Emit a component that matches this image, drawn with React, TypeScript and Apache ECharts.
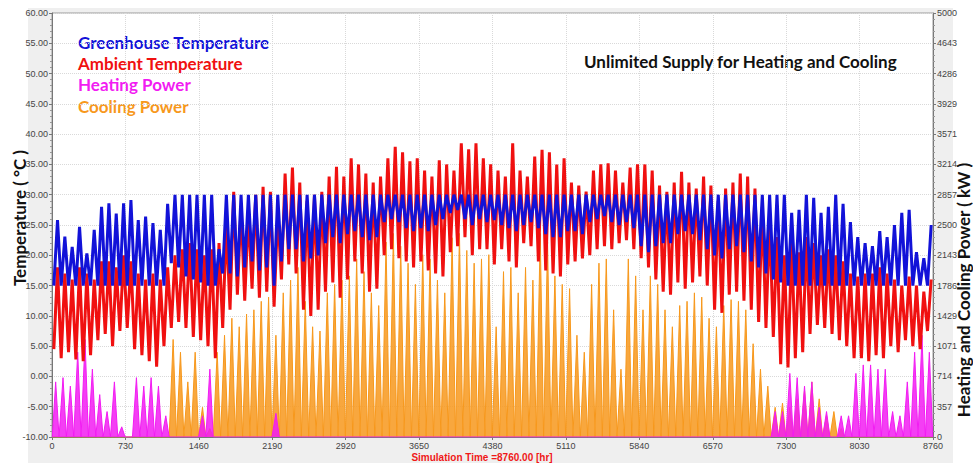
import React, { useEffect, useRef } from "react";
import * as echarts from "echarts";

// Each sample covers a 73-hour window of the 8760-hour simulation (120 windows).
const SAMPLE_HOURS = 73;
const X_TICKS = [0, 730, 1460, 2190, 2920, 3650, 4380, 5110, 5840, 6570, 7300, 8030, 8760];

// Greenhouse temperature (°C): window maximum / minimum
const ghHi = [
  25.8, 23.1, 21.4, 24.7, 20.3, 24.2, 28.0, 28.6, 26.9, 28.6,
  29.1, 25.8, 26.4, 25.3, 24.2, 28.5, 30, 30, 30, 30,
  30, 30, 21, 30, 30, 30, 30, 30, 30, 30,
  30, 30, 30, 30, 30, 30, 30, 30, 30, 30,
  30, 30, 30, 30, 30, 30, 30, 30, 30, 30,
  30, 30, 30, 30, 30, 30, 30, 30, 30, 30,
  30, 30, 30, 30, 30, 30, 30, 30, 30, 30,
  30, 30, 30, 30, 30, 30, 30, 30, 30, 30,
  30, 30, 30, 30, 30, 30, 30, 30, 30, 30,
  30, 30, 30, 30, 30, 30, 30, 30, 30, 30,
  27, 27.5, 30, 29.5, 27, 28, 30, 28.5, 25.5, 23,
  22, 21.5, 24, 23, 25, 27, 27.5, 20.5, 19.5, 25,
];
const ghLo = [
  15, 15, 15, 15, 15, 15, 15, 15, 15, 15,
  15, 15, 15, 15, 15, 15, 18.7, 18, 16.5, 16,
  15.5, 15, 15, 17, 17, 16.5, 18, 19, 17.5, 18,
  15, 19, 21, 21, 19, 19.5, 20, 22, 23, 22,
  23.5, 24, 23, 22.5, 23, 25.5, 26, 25.5, 24.5, 24,
  24.5, 24, 25, 26, 27, 27.5, 26, 25, 26, 25.5,
  25.8, 25, 24.5, 24, 25, 25.5, 24.5, 23.5, 23, 23,
  24, 24, 23.5, 25.5, 26, 26.5, 25.5, 25, 25.5, 24.5,
  21.5, 20.5, 21.5, 22, 22, 23.5, 24, 23.5, 22.5, 21,
  20, 19.5, 21, 21.5, 20.5, 19, 18, 17, 16, 15.5,
  15, 15, 15, 15, 15, 15, 15, 15, 15, 15,
  15, 15, 15, 15, 15, 15, 15, 15, 15, 15,
];

// Ambient temperature (°C): window maximum / minimum
const ambHi = [
  18, 17, 16, 18, 17, 16, 19, 19, 18, 20,
  19, 17, 16, 17, 16, 18, 20, 21, 22, 21,
  20, 21, 22, 25, 30.5, 28, 27, 30, 31.3, 30.5,
  27, 33.5, 34.5, 32, 29, 30, 30.5, 33, 34.6, 33,
  36, 35, 33.5, 32, 33, 36, 37.9, 37, 35.5, 36,
  34, 33, 35.7, 35, 34, 38.5, 37.5, 38.5, 36, 35,
  34, 33, 38.5, 34, 33, 36.3, 37.4, 37, 35, 36,
  32, 31.5, 30.5, 34, 35, 35.2, 34, 32, 34.5, 35,
  35, 34, 31.5, 30.5, 32, 33.8, 32, 31, 33, 31.5,
  29, 31, 32, 33.5, 33, 31, 28, 26, 23, 20,
  22, 20.5, 23, 22, 20, 21, 20, 19, 17, 16.5,
  17, 17, 18, 17, 16, 15, 16.5, 15, 14, 16,
];
const ambLo = [
  4.5, 3, 4, 2.8, 2.5, 3.5, 6, 7, 5, 7.5,
  8, 4.5, 3.5, 2.5, 1.6, 5, 8, 9, 8, 6.5,
  6, 5, 3, 8, 11, 13.5, 12.5, 14.5, 13, 14,
  11.5, 16, 18.5, 17, 11, 10, 11, 14, 15.5, 13,
  16, 19, 17, 14, 14.5, 20, 21, 19.5, 19, 18,
  19, 17.5, 17, 16.5, 20.5, 21.5, 23, 20, 21, 21,
  18.5, 21, 19, 18, 22, 21.5, 19, 17.5, 17, 16.5,
  18.5, 19, 19.5, 20, 21, 21.5, 21, 22, 22.5, 21,
  19.5, 18, 16, 14, 13.5, 15.5, 14.5, 15.5, 16.5, 15,
  11, 10.5, 13.5, 14, 12.5, 11, 9, 8, 6.5, 2,
  1.5, 3, 4, 7, 8.5, 8, 7, 6, 5, 3,
  3, 2.5, 3.5, 3, 5, 4, 6, 5, 4.5, 7.5,
];

// Heating and cooling power (kW): window peak
const heatPeak = [
  650, 700, 600, 1000, 1150, 800, 500, 300, 650, 120,
  0, 700, 600, 700, 600, 250, 0, 0, 0, 0,
  250, 800, 0, 0, 0, 0, 0, 0, 0, 0,
  280, 0, 0, 0, 0, 0, 0, 0, 0, 0,
  0, 0, 0, 0, 0, 0, 0, 0, 0, 0,
  0, 0, 0, 0, 0, 0, 0, 0, 0, 0,
  0, 0, 0, 0, 0, 0, 0, 0, 0, 0,
  0, 0, 0, 0, 0, 0, 0, 0, 0, 0,
  0, 0, 0, 0, 0, 0, 0, 0, 0, 0,
  0, 0, 0, 0, 0, 0, 0, 0, 300, 300,
  750, 700, 600, 650, 350, 300, 0, 250, 250, 750,
  850, 850, 800, 800, 300, 250, 650, 1000, 1200, 1000,
];
const coolPeak = [
  0, 0, 0, 0, 0, 0, 0, 0, 0, 0,
  0, 0, 0, 0, 0, 0, 1150, 1000, 650, 1000,
  350, 100, 1000, 1200, 1400, 1300, 1450, 1500, 1600, 1650,
  1200, 1700, 1850, 2000, 1600, 1300, 1250, 1700, 1800, 1850,
  1900, 2100, 1950, 1700, 1550, 2300, 2400, 2250, 2050, 1800,
  2150, 2100, 1850, 1700, 2350, 2400, 2200, 2050, 2100, 2150,
  1300, 1950, 2000, 1700, 2000, 1850, 2400, 2300, 1900, 1800,
  1750, 1200, 1000, 1800, 2050, 2100, 1500, 800, 2100, 1900,
  1500, 1900, 1800, 1500, 1300, 1550, 1600, 1700, 1650, 1400,
  1300, 1550, 1620, 1600, 1500, 1100, 800, 600, 350, 400,
  350, 450, 550, 650, 450, 250, 300, 100, 0, 0,
  0, 0, 0, 0, 0, 0, 0, 0, 0, 0,
];

const SERIES_NAMES = ["Greenhouse Temperature", "Ambient Temperature", "Heating Power", "Cooling Power"];
const SERIES_COLORS = ["#1212d8", "#f01010", "#f21cf2", "#f7981c"];

function swing(lo: number[], hi: number[]): number[][] {
  const pts: number[][] = [];
  for (let i = 0; i < hi.length; i++) {
    const t0 = i * SAMPLE_HOURS;
    pts.push([t0 + SAMPLE_HOURS * 0.25, lo[i]]);
    pts.push([t0 + SAMPLE_HOURS * 0.75, hi[i]]);
  }
  return pts;
}

function spikes(peak: number[]): number[][] {
  const pts: number[][] = [];
  for (let i = 0; i < peak.length; i++) {
    const t0 = i * SAMPLE_HOURS;
    pts.push([t0 + SAMPLE_HOURS * 0.04, 0]);
    pts.push([t0 + SAMPLE_HOURS * 0.5, peak[i]]);
    pts.push([t0 + SAMPLE_HOURS * 0.96, 0]);
  }
  return pts;
}

export default function App() {
  const ref = useRef<HTMLDivElement>(null);
  useEffect(() => {
    document.body.style.margin = "0";
    if (!ref.current) return;
    const chart = echarts.init(ref.current, null, { renderer: "svg" });
    const titleFont = "Lato, 'Open Sans', sans-serif";
    const grid = { left: 52, top: 13, right: 40, bottom: 29 };
    const axisLabelStyle = { fontSize: 9, color: "#444", fontFamily: "'Liberation Sans', Arial, sans-serif" };
    const split = { show: true, lineStyle: { color: "#d9d9d9", type: "dotted" as const, width: 1 } };
    const legendTexts = SERIES_NAMES.map((name, i) => ({
      type: "text",
      x: 78,
      y: 42 + i * 21.4,
      silent: true,
      style: {
        text: name,
        fill: SERIES_COLORS[i],
        font: `bold 17px ${titleFont}`,
        verticalAlign: "middle",
        align: "left",
      },
    }));
    chart.setOption({
      animation: false,
      backgroundColor: "#ffffff",
      grid: { ...grid, show: true, backgroundColor: "#ffffff", borderColor: "#9a9a9a", borderWidth: 1 },
      graphic: [
        {
          type: "rect",
          z: -10,
          silent: true,
          shape: { x: 28, y: 8, width: 925, height: 455 },
          style: { fill: "#efefef" },
        },
        ...legendTexts,
        {
          type: "text",
          x: 584,
          y: 61,
          silent: true,
          style: {
            text: "Unlimited Supply for Heating and Cooling",
            fill: "#111",
            font: `bold 17px ${titleFont}`,
            verticalAlign: "middle",
            align: "left",
          },
        },
        {
          type: "text",
          x: 19,
          y: 218,
          rotation: Math.PI / 2,
          silent: true,
          style: {
            text: "Temperature ( °C )",
            fill: "#111",
            font: `bold 17px ${titleFont}`,
            verticalAlign: "middle",
            align: "center",
          },
        },
        {
          type: "text",
          x: 963,
          y: 290,
          rotation: Math.PI / 2,
          silent: true,
          style: {
            text: "Heating and Cooling Power ( kW )",
            fill: "#111",
            font: `bold 17px ${titleFont}`,
            verticalAlign: "middle",
            align: "center",
          },
        },
        {
          type: "text",
          x: 482,
          y: 457,
          silent: true,
          style: {
            text: "Simulation Time =8760.00 [hr]",
            fill: "#f01818",
            font: "bold 10px 'Liberation Sans', Arial, sans-serif",
            verticalAlign: "middle",
            align: "center",
          },
        },
      ],
      xAxis: {
        type: "value",
        min: X_TICKS[0],
        max: X_TICKS[X_TICKS.length - 1],
        interval: X_TICKS[1] - X_TICKS[0],
        axisLine: { show: true, onZero: false, lineStyle: { color: "#777" } },
        axisTick: { show: true, length: 3, lineStyle: { color: "#777" } },
        axisLabel: { ...axisLabelStyle, margin: 4, showMaxLabel: true, formatter: (v: number) => String(v) },
        splitLine: split,
      },
      yAxis: [
        {
          type: "value",
          min: -10,
          max: 60,
          interval: 5,
          position: "left",
          axisLine: { show: true, lineStyle: { color: "#777" } },
          axisTick: { show: true, length: 3, lineStyle: { color: "#777" } },
          minorTick: { show: true, splitNumber: 5, length: 2, lineStyle: { color: "#999" } },
          axisLabel: { ...axisLabelStyle, margin: 4, formatter: (v: number) => v.toFixed(2) },
          splitLine: split,
        },
        {
          type: "value",
          min: 0,
          max: 5000,
          interval: 5000 / 14,
          position: "right",
          axisLine: { show: true, lineStyle: { color: "#777" } },
          axisTick: { show: true, length: 3, lineStyle: { color: "#777" } },
          minorTick: { show: true, splitNumber: 5, length: 2, lineStyle: { color: "#999" } },
          axisLabel: { ...axisLabelStyle, margin: 4, formatter: (v: number) => String(Math.round(v)) },
          splitLine: { show: false },
        },
      ],
      series: [
        {
          name: SERIES_NAMES[3],
          type: "line",
          yAxisIndex: 1,
          data: spikes(coolPeak),
          symbol: "none",
          z: 2,
          lineStyle: { color: SERIES_COLORS[3], width: 1 },
          areaStyle: { color: SERIES_COLORS[3], opacity: 0.85 },
        },
        {
          name: SERIES_NAMES[2],
          type: "line",
          yAxisIndex: 1,
          data: spikes(heatPeak),
          symbol: "none",
          z: 3,
          lineStyle: { color: SERIES_COLORS[2], width: 1 },
          areaStyle: { color: SERIES_COLORS[2], opacity: 0.85 },
        },
        {
          name: SERIES_NAMES[1],
          type: "line",
          yAxisIndex: 0,
          data: swing(ambLo, ambHi),
          symbol: "none",
          z: 4,
          lineStyle: { color: SERIES_COLORS[1], width: 3 },
        },
        {
          name: SERIES_NAMES[0],
          type: "line",
          yAxisIndex: 0,
          data: swing(ghLo, ghHi),
          symbol: "none",
          z: 5,
          lineStyle: { color: SERIES_COLORS[0], width: 3 },
        },
      ],
    });
    return () => chart.dispose();
  }, []);
  return <div ref={ref} style={{ width: 973, height: 466 }} />;
}
